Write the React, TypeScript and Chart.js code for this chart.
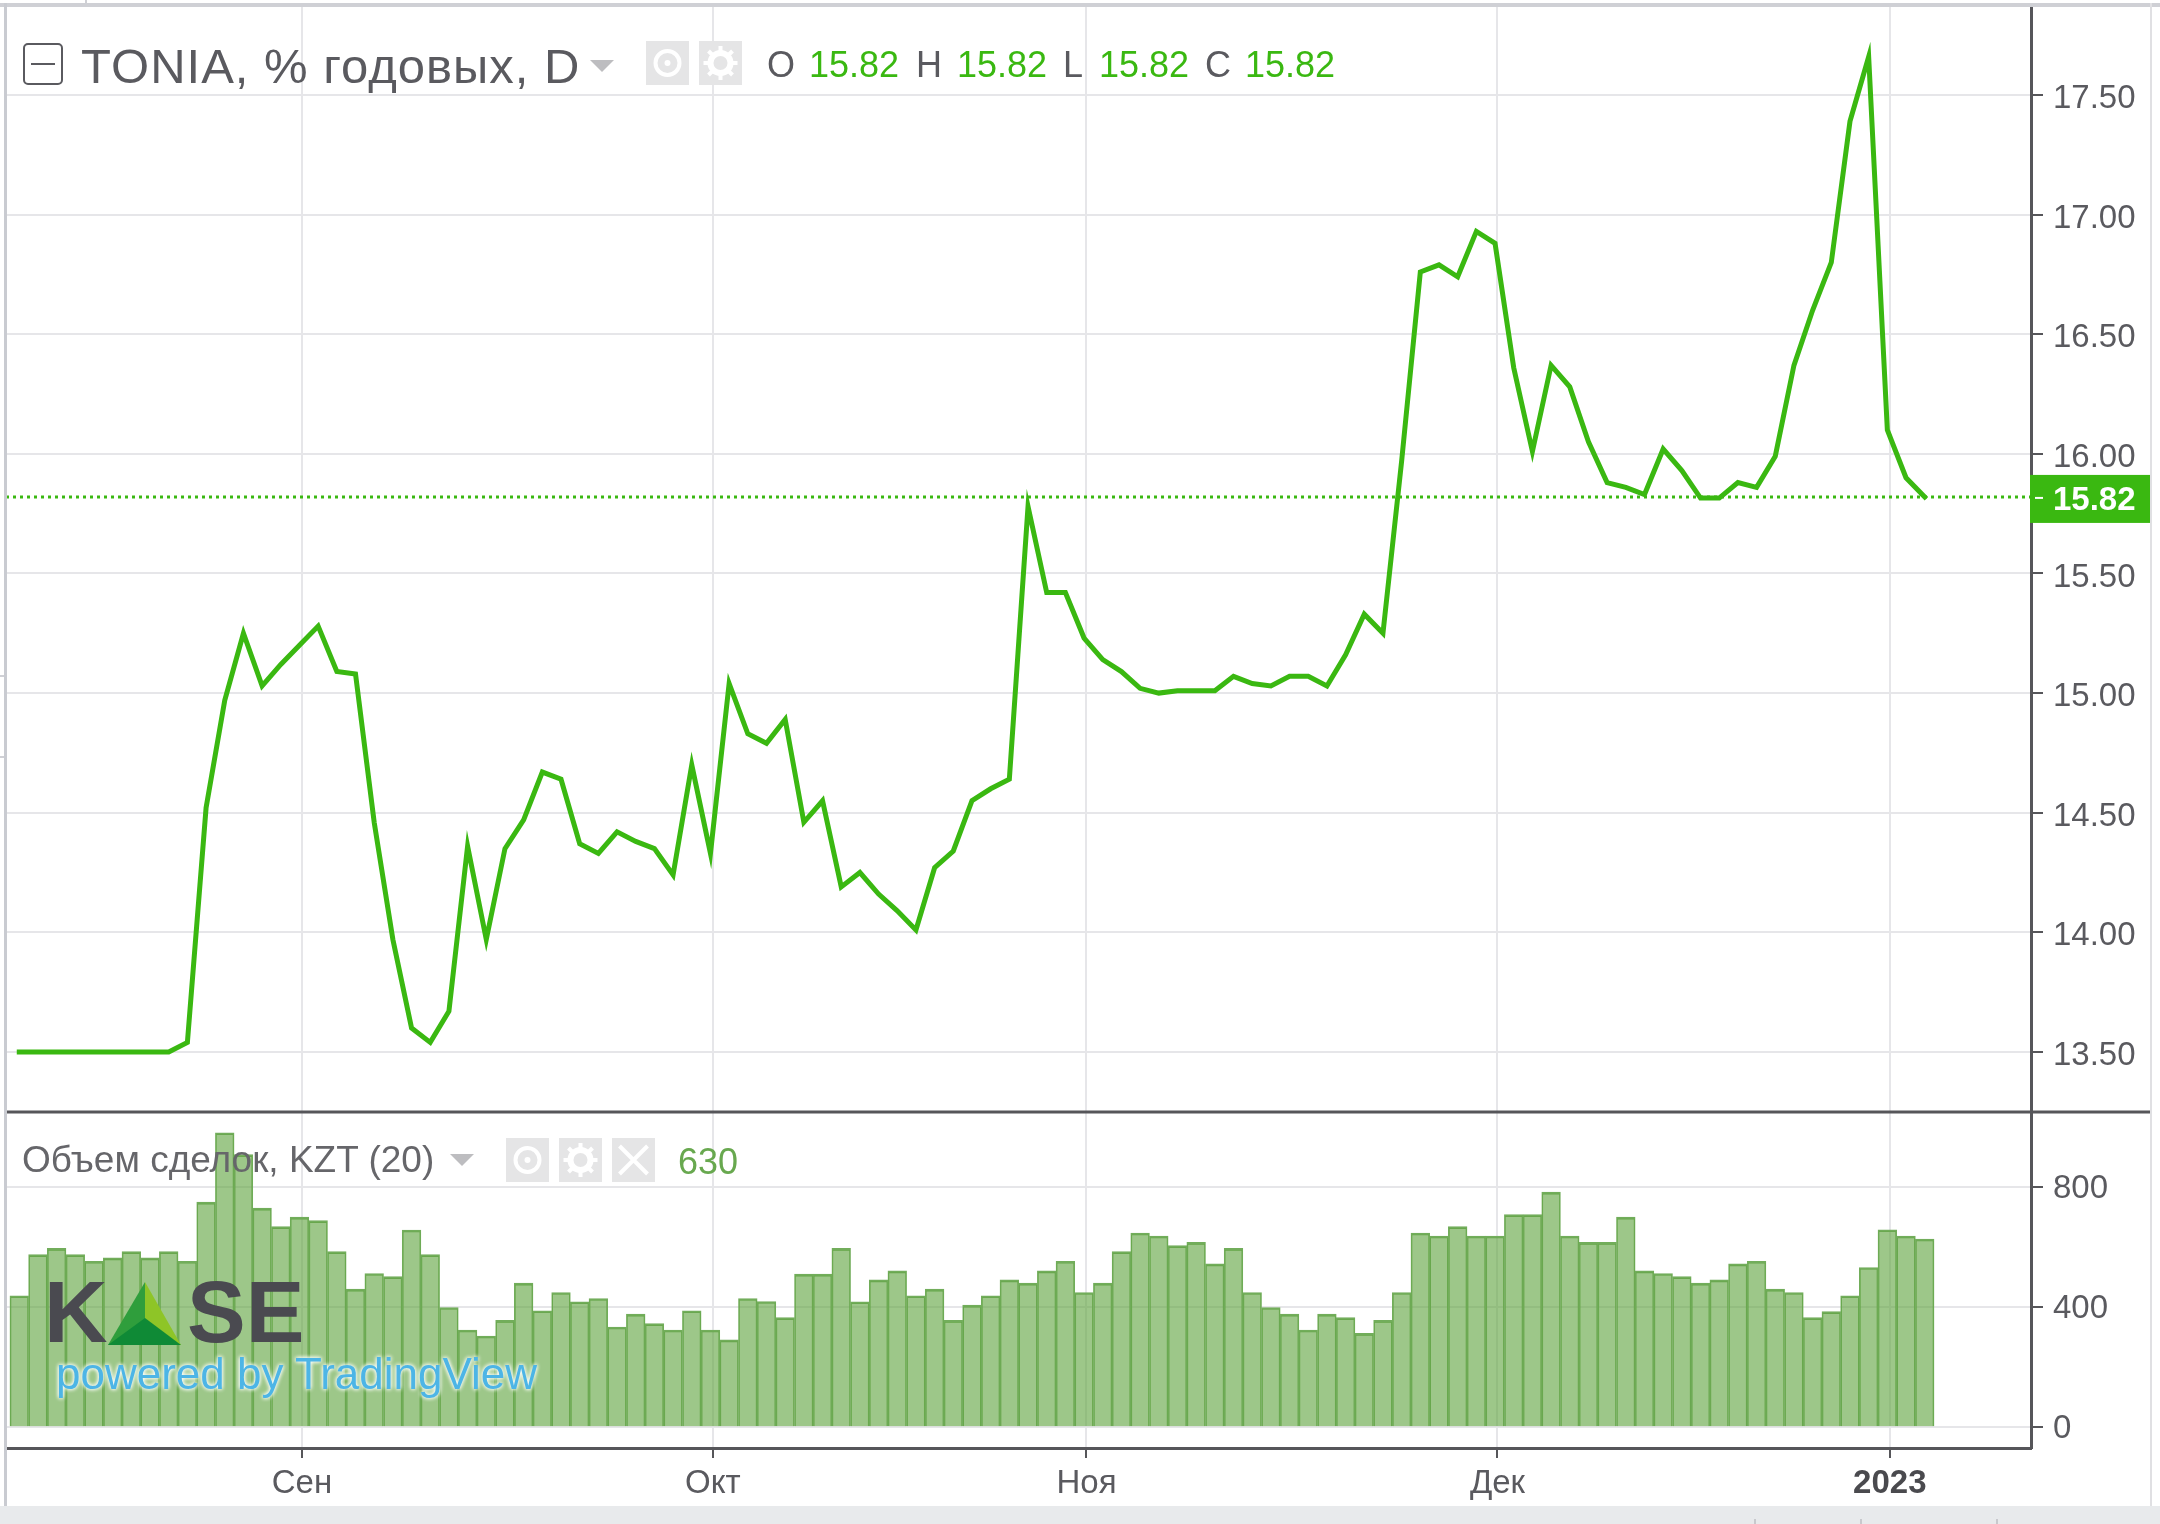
import { useEffect, useRef } from "react";
import { Chart, registerables } from "chart.js";
import type { Plugin } from "chart.js";

Chart.register(...registerables);

const FONT = '"Liberation Sans", Arial, sans-serif';
const GREEN = "#3ab811";
const TEXT = "#5a5a5f";

const rates = [
  13.5, 13.5, 13.5, 13.5, 13.5, 13.5, 13.5, 13.5, 13.5, 13.54, 14.52, 14.97, 15.25, 15.03, 15.12, 15.2, 15.28, 15.09,
  15.08, 14.46, 13.97, 13.6, 13.54, 13.67, 14.36, 13.97, 14.35, 14.47, 14.67, 14.64, 14.37, 14.33, 14.42, 14.38, 14.35,
  14.24, 14.7, 14.33, 15.04, 14.83, 14.79, 14.89, 14.46, 14.55, 14.19, 14.25, 14.16, 14.09, 14.01, 14.27, 14.34, 14.55,
  14.6, 14.64, 15.78, 15.42, 15.42, 15.23, 15.14, 15.09, 15.02, 15.0, 15.01, 15.01, 15.01, 15.07, 15.04, 15.03, 15.07,
  15.07, 15.03, 15.16, 15.33, 15.25, 15.97, 16.76, 16.79, 16.74, 16.93, 16.88, 16.36, 16.01, 16.37, 16.28, 16.05, 15.88,
  15.86, 15.83, 16.02, 15.93, 15.815, 15.815, 15.88, 15.86, 15.99, 16.37, 16.6, 16.8, 17.39, 17.66, 16.1, 15.9, 15.82,
];

const volumes = [
  438, 575, 596, 575, 553, 564, 585, 564, 585, 553, 750, 981, 908, 730, 668, 700, 688, 585, 460, 512, 502, 657, 575, 399,
  324, 304, 356, 480, 388, 449, 418, 429, 334, 377, 345, 324, 388, 324, 291, 429, 419, 365, 510, 510, 596, 418, 491, 521,
  438, 460, 356, 407, 438, 491, 480, 521, 553, 449, 480, 585, 647, 637, 605, 616, 544, 596, 449, 399, 377, 324, 377, 365,
  313, 356, 449, 647, 637, 668, 637, 637, 708, 708, 783, 637, 616, 616, 700, 521, 512, 502, 480, 491, 544, 553, 460, 449,
  365, 385, 438, 532, 658, 637, 627,
];

const monthLabels = ["Сен", "Окт", "Ноя", "Дек", "2023"];
const monthIndexes = [15, 37, 57, 79, 100];
const rateTicks = [13.5, 14, 14.5, 15, 15.5, 16, 16.5, 17, 17.5];
const volumeTicks = [0, 400, 800];

const lastRate = rates[rates.length - 1];

// dotted last-price line, tag on the axis and the pane separator
const overlayPlugin: Plugin = {
  id: "overlay",
  beforeDatasetsDraw(chart) {
    const { ctx, chartArea } = chart;
    const y = chart.scales.y.getPixelForValue(lastRate);
    ctx.save();
    ctx.strokeStyle = GREEN;
    ctx.lineWidth = 3;
    ctx.setLineDash([3, 4]);
    ctx.beginPath();
    ctx.moveTo(chartArea.left, y);
    ctx.lineTo(chartArea.right, y);
    ctx.stroke();
    ctx.restore();
  },
  afterDraw(chart) {
    const { ctx, chartArea } = chart;
    const y = chart.scales.y.getPixelForValue(lastRate);
    const sep = chart.scales.y.bottom;
    ctx.save();
    ctx.fillStyle = GREEN;
    ctx.fillRect(chartArea.right - 1, y - 22, 121, 48);
    ctx.fillStyle = "#fff";
    ctx.fillRect(chartArea.right + 4, y, 8, 2);
    ctx.font = `bold 33px ${FONT}`;
    ctx.textAlign = "left";
    ctx.textBaseline = "middle";
    ctx.fillText(lastRate.toFixed(2), 2053, y + 4);
    ctx.strokeStyle = "#56565a";
    ctx.lineWidth = 3;
    ctx.beginPath();
    ctx.moveTo(chartArea.left, sep);
    ctx.lineTo(2151, sep);
    ctx.stroke();
    ctx.restore();
  },
};

function Label(props: { x: number; y: number; size: number; color: string; text: string; spacing?: number }) {
  return (
    <span
      style={{
        position: "absolute",
        left: props.x,
        top: props.y,
        transform: "translateY(-50%)",
        font: `${props.size}px ${FONT}`,
        color: props.color,
        letterSpacing: props.spacing ?? 0,
        whiteSpace: "nowrap",
      }}
    >
      {props.text}
    </span>
  );
}

function Box(props: { x: number; y: number; w: number; h: number; color: string }) {
  return (
    <div
      style={{ position: "absolute", left: props.x, top: props.y, width: props.w, height: props.h, background: props.color }}
    />
  );
}

function Arrow(props: { x: number; y: number }) {
  return (
    <svg style={{ position: "absolute", left: props.x, top: props.y }} width="24" height="12">
      <path d="M0 0H24L12 12Z" fill="#bdbdc0" />
    </svg>
  );
}

function IconButton(props: { x: number; y: number; w: number; h: number; kind: "eye" | "gear" | "close" }) {
  const cx = props.w / 2;
  const cy = props.h / 2;
  return (
    <svg style={{ position: "absolute", left: props.x, top: props.y }} width={props.w} height={props.h}>
      <rect width={props.w} height={props.h} fill="#e5e5e6" />
      {props.kind === "eye" && (
        <>
          <circle cx={cx} cy={cy} r="12" fill="none" stroke="#fff" strokeWidth="4" />
          <circle cx={cx} cy={cy} r="3" fill="#fff" />
        </>
      )}
      {props.kind === "gear" && (
        <>
          <circle cx={cx} cy={cy} r="10" fill="none" stroke="#fff" strokeWidth="6" />
          <path
            d={`M${cx} ${cy - 17}V${cy + 17}M${cx - 17} ${cy}H${cx + 17}M${cx - 12} ${cy - 12}L${cx + 12} ${cy + 12}M${cx + 12} ${cy - 12}L${cx - 12} ${cy + 12}`}
            stroke="#fff"
            strokeWidth="4"
            strokeDasharray="6 22"
          />
        </>
      )}
      {props.kind === "close" && (
        <path d={`M${cx - 14} ${cy - 14}L${cx + 14} ${cy + 14}M${cx + 14} ${cy - 14}L${cx - 14} ${cy + 14}`} stroke="#fff" strokeWidth="4" />
      )}
    </svg>
  );
}

export default function App() {
  const canvasRef = useRef<HTMLCanvasElement>(null);

  useEffect(() => {
    if (!canvasRef.current) return;

    const chart = new Chart(canvasRef.current, {
      type: "bar",
      data: {
        datasets: [
          {
            type: "line",
            label: "TONIA",
            data: rates.map((v, i) => ({ x: i, y: v })),
            xAxisID: "x",
            yAxisID: "y",
            borderColor: GREEN,
            borderWidth: 5,
            borderJoinStyle: "miter",
            borderCapStyle: "square",
            pointRadius: 0,
            tension: 0,
          },
          {
            type: "bar",
            label: "Объем сделок",
            data: volumes.map((v, i) => ({ x: i, y: v })),
            xAxisID: "x",
            yAxisID: "y2",
            backgroundColor: "rgba(92,162,58,0.6)",
            borderColor: "#72ad5b",
            borderWidth: { left: 1, right: 1, top: 2, bottom: 0 },
            barPercentage: 1,
            categoryPercentage: 1,
          },
        ],
      },
      options: {
        animation: false,
        responsive: false,
        layout: { padding: { left: 6, top: 6, right: 0, bottom: 0 } },
        plugins: { legend: { display: false }, tooltip: { enabled: false } },
        scales: {
          x: {
            type: "linear",
            position: "bottom",
            offset: false,
            min: -0.71,
            max: 107.69,
            afterBuildTicks: (scale) => {
              scale.ticks = monthIndexes.map((v) => ({ value: v + 0.13 }));
            },
            afterFit: (scale) => {
              scale.height = 76;
              scale.paddingLeft = 0;
              scale.paddingRight = 0;
            },
            grid: { offset: false, color: "#e6e6e9", lineWidth: 2, tickColor: "#56565a", tickLength: 10 },
            border: { color: "#56565a", width: 3 },
            ticks: {
              autoSkip: false,
              maxRotation: 0,
              padding: 6,
              color: (ctx) => (ctx.index === 4 ? "#4a4a4e" : TEXT),
              font: (ctx) => ({ family: FONT, size: 33, weight: ctx.index === 4 ? "bold" : "normal" }),
              callback: (_v, i) => monthLabels[i],
            },
          },
          y: {
            type: "linear",
            position: "right",
            stack: "panes",
            stackWeight: 1106,
            min: 13.249,
            max: 17.872,
            afterBuildTicks: (scale) => {
              scale.ticks = rateTicks.map((v) => ({ value: v }));
            },
            afterFit: (scale) => {
              scale.width = 129;
              scale.paddingTop = 0;
              scale.paddingBottom = 0;
            },
            grid: { color: "#e6e6e9", lineWidth: 2, tickColor: "#56565a", tickLength: 12 },
            border: { color: "#56565a", width: 3 },
            ticks: {
              padding: 10,
              labelOffset: 4,
              color: TEXT,
              font: { family: FONT, size: 33 },
              callback: (v) => Number(v).toFixed(2),
            },
          },
          y2: {
            type: "linear",
            position: "right",
            stack: "panes",
            stackWeight: 336,
            min: -69,
            max: 1050,
            afterBuildTicks: (scale) => {
              scale.ticks = volumeTicks.map((v) => ({ value: v }));
            },
            afterFit: (scale) => {
              scale.width = 129;
              scale.paddingTop = 0;
              scale.paddingBottom = 0;
            },
            grid: { color: "#e6e6e9", lineWidth: 2, tickColor: "#56565a", tickLength: 12 },
            border: { color: "#56565a", width: 3 },
            ticks: {
              padding: 10,
              labelOffset: 2,
              color: TEXT,
              font: { family: FONT, size: 33 },
              callback: (v) => String(v),
            },
          },
        },
      },
      plugins: [overlayPlugin],
    });

    return () => {
      chart.destroy();
    };
  }, []);

  const rateText = lastRate.toFixed(2);
  const volumeText = String(Math.round(volumes[volumes.length - 1] / 10) * 10);

  return (
    <div
      style={{
        position: "absolute",
        left: 0,
        top: 0,
        width: 2160,
        height: 1524,
        background: "#fff",
        overflow: "hidden",
        filter: "blur(0.6px)",
      }}
    >
      <canvas ref={canvasRef} width={2160} height={1524} style={{ position: "absolute", left: 0, top: 0 }} />

      {/* frame of the embedded widget */}
      <Box x={0} y={3} w={2160} h={4} color="#cfd0d5" />
      <Box x={4} y={3} w={3} h={1505} color="#c9cbd1" />
      <Box x={2150} y={3} w={2} h={1505} color="#e0e0e3" />
      <Box x={85} y={0} w={2} h={4} color="#cfd0d5" />
      <Box x={0} y={675} w={4} h={2} color="#cfd0d5" />
      <Box x={0} y={756} w={4} h={2} color="#cfd0d5" />
      <Box x={0} y={1506} w={2160} h={18} color="#e8eaec" />
      <Box x={1754} y={1519} w={2} h={5} color="#c8c9cd" />
      <Box x={1860} y={1519} w={2} h={5} color="#c8c9cd" />
      <Box x={1996} y={1519} w={2} h={5} color="#c8c9cd" />

      {/* main pane legend */}
      <div
        style={{
          position: "absolute",
          left: 23,
          top: 43,
          width: 36,
          height: 38,
          border: `2px solid ${TEXT}`,
          borderRadius: 5,
        }}
      />
      <Box x={31} y={63} w={24} h={2} color={TEXT} />
      <Label x={81} y={66} size={49} color={TEXT} text="TONIA, % годовых, D" spacing={1} />
      <Arrow x={590} y={60} />
      <IconButton x={646} y={41} w={43} h={44} kind="eye" />
      <IconButton x={699} y={41} w={43} h={44} kind="gear" />
      <Label x={767} y={65} size={36} color={TEXT} text="O" />
      <Label x={809} y={65} size={36} color={GREEN} text={rateText} />
      <Label x={916} y={65} size={36} color={TEXT} text="H" />
      <Label x={957} y={65} size={36} color={GREEN} text={rateText} />
      <Label x={1063} y={65} size={36} color={TEXT} text="L" />
      <Label x={1099} y={65} size={36} color={GREEN} text={rateText} />
      <Label x={1205} y={65} size={36} color={TEXT} text="C" />
      <Label x={1245} y={65} size={36} color={GREEN} text={rateText} />

      {/* volume pane legend */}
      <Label x={22} y={1160} size={37} color="#66666a" text="Объем сделок, KZT (20)" />
      <Arrow x={450} y={1154} />
      <IconButton x={506} y={1138} w={43} h={44} kind="eye" />
      <IconButton x={559} y={1138} w={43} h={44} kind="gear" />
      <IconButton x={612} y={1138} w={43} h={44} kind="close" />
      <Label x={678} y={1162} size={36} color="#68a84f" text={volumeText} />

      {/* watermark */}
      <span
        style={{
          position: "absolute",
          left: 44,
          top: 1312,
          transform: "translateY(-50%)",
          font: `bold 88px ${FONT}`,
          color: "#4a4a50",
        }}
      >
        K
      </span>
      <svg style={{ position: "absolute", left: 105, top: 1280 }} width="80" height="68">
        <path d="M40 2L3 65H40Z" fill="#2f9e3c" />
        <path d="M40 2L76 65H40Z" fill="#8ec527" />
        <path d="M40 38L3 65H76Z" fill="#0f8a36" />
      </svg>
      <span
        style={{
          position: "absolute",
          left: 187,
          top: 1312,
          transform: "translateY(-50%)",
          font: `bold 88px ${FONT}`,
          color: "#4a4a50",
        }}
      >
        SE
      </span>
      <span
        style={{
          position: "absolute",
          left: 56,
          top: 1374,
          transform: "translateY(-50%)",
          font: `44px ${FONT}`,
          color: "#4db5e6",
          whiteSpace: "nowrap",
          textShadow: "0 0 4px #fff, 0 0 4px #fff",
        }}
      >
        powered by TradingView
      </span>
    </div>
  );
}
